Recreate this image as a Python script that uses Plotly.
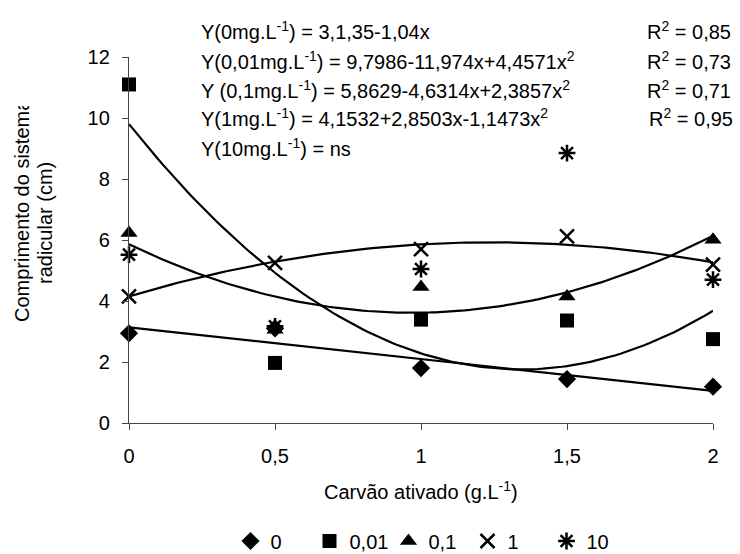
import numpy as np
import plotly.graph_objects as go

# ---------------- data ----------------
x_vals = [0, 0.5, 1, 1.5, 2]
x_ticktext = ["0", "0,5", "1", "1,5", "2"]
y_tickvals = [0, 2, 4, 6, 8, 10, 12]

series_names = ["0", "0,01", "0,1", "1", "10"]
y_0 = [2.94, 3.10, 1.80, 1.44, 1.19]
y_001 = [11.10, 1.97, 3.39, 3.36, 2.75]
y_01 = [6.23, 3.06, 4.46, 4.15, 6.01]
y_1 = [4.15, 5.25, 5.70, 6.12, 5.19]
y_10 = [5.52, 3.17, 5.05, 8.85, 4.70]

# trend-line coefficients as printed on the chart (c0, c1, c2)
coef_0 = [3.135, -1.04, 0.0]
coef_001 = [9.7986, -11.974, 4.4571]
coef_01 = [5.8629, -4.6314, 2.3857]
coef_1 = [4.1532, 2.8503, -1.1473]

eq_texts = [
    "Y(0mg.L<sup>-1</sup>) = 3,1,35-1,04x",
    "Y(0,01mg.L<sup>-1</sup>) = 9,7986-11,974x+4,4571x<sup>2</sup>",
    "Y (0,1mg.L<sup>-1</sup>) = 5,8629-4,6314x+2,3857x<sup>2</sup>",
    "Y(1mg.L<sup>-1</sup>) = 4,1532+2,8503x-1,1473x<sup>2</sup>",
    "Y(10mg.L<sup>-1</sup>) = ns",
]
r2_texts = ["R<sup>2</sup> = 0,85", "R<sup>2</sup> = 0,73",
            "R<sup>2</sup> = 0,71", "R<sup>2</sup> = 0,95"]

# ---------------- layout geometry ----------------
W, H = 740, 554
L, R, T, B = 129, 27, 57, 131
PW, PH = W - L - R, H - T - B
FONT = "Liberation Sans, Arial, sans-serif"
FS = 20


def px(xp):
    return (xp - L) / PW


def py(yp):
    return (T + PH - yp) / PH


fig = go.Figure()

# trend lines
xs = np.linspace(0, 2, 121)
for c in [coef_0, coef_001, coef_01, coef_1]:
    ys = c[0] + c[1] * xs + c[2] * xs ** 2
    fig.add_trace(go.Scatter(x=xs, y=ys, mode="lines",
                             line=dict(color="black", width=2.2),
                             showlegend=False, hoverinfo="skip"))

marker_specs = [
    (y_0, dict(symbol="diamond", size=14, color="black")),
    (y_001, dict(symbol="square", size=14, color="black")),
    (y_01, dict(symbol="triangle-up", size=15, color="black")),
    (y_1, dict(symbol="x-thin-open", size=14, color="black",
               line=dict(color="black", width=2.5))),
    (y_10, dict(symbol="asterisk-open", size=14, color="black",
                line=dict(color="black", width=2.5))),
]
for name, (ys, mk) in zip(series_names, marker_specs):
    fig.add_trace(go.Scatter(x=x_vals, y=ys, mode="markers", name=name,
                             marker=mk, cliponaxis=False))

annotations = []
eq_y = [30, 60, 89, 118, 147]
for t, yy in zip(eq_texts, eq_y):
    annotations.append(dict(xref="paper", yref="paper", x=px(199), y=py(yy),
                            xanchor="left", yanchor="middle", text=t,
                            showarrow=False, font=dict(size=FS)))
r2_x = [645, 645, 645, 647]
for t, yy, xx in zip(r2_texts, eq_y, r2_x):
    annotations.append(dict(xref="paper", yref="paper", x=px(xx), y=py(yy),
                            xanchor="left", yanchor="middle", text=t,
                            showarrow=False, font=dict(size=FS)))

# axis titles
annotations.append(dict(xref="paper", yref="paper", x=px(421), y=py(490),
                        xanchor="center", yanchor="middle",
                        text="Carvão ativado (g.L<sup>-1</sup>)",
                        showarrow=False, font=dict(size=FS)))
annotations.append(dict(xref="paper", yref="paper", x=px(22), y=py(214),
                        xanchor="center", yanchor="middle",
                        text="Comprimento do sistema", textangle=-90,
                        width=216, align="left",
                        showarrow=False, font=dict(size=FS)))
annotations.append(dict(xref="paper", yref="paper", x=px(45), y=py(223),
                        xanchor="center", yanchor="middle",
                        text="radicular (cm)", textangle=-90,
                        showarrow=False, font=dict(size=FS)))

axis_common = dict(showline=True, linecolor="#444", linewidth=1.3,
                   ticks="outside", ticklen=6, tickcolor="#444", tickwidth=1.3,
                   showgrid=False, zeroline=False,
                   tickfont=dict(size=FS, color="black"))

fig.update_layout(
    width=W, height=H,
    margin=dict(l=L, r=R, t=T, b=B, autoexpand=False),
    paper_bgcolor="white", plot_bgcolor="white",
    font=dict(family=FONT, size=FS, color="black"),
    xaxis=dict(range=[0, 2], tickvals=x_vals, ticktext=x_ticktext,
               ticklabelstandoff=9, automargin=False, **axis_common),
    yaxis=dict(range=[0, 12], tickvals=y_tickvals,
               ticktext=[str(v) for v in y_tickvals],
               ticklabelstandoff=8, automargin=False, **axis_common),
    legend=dict(orientation="h", x=428 / W, xanchor="center", xref="container",
                y=1 - 541 / H, yanchor="middle", yref="container",
                font=dict(size=FS), itemwidth=30, entrywidth=34,
                bgcolor="rgba(0,0,0,0)"),
    annotations=annotations,
    showlegend=True,
)

fig.write_html("out.html")
